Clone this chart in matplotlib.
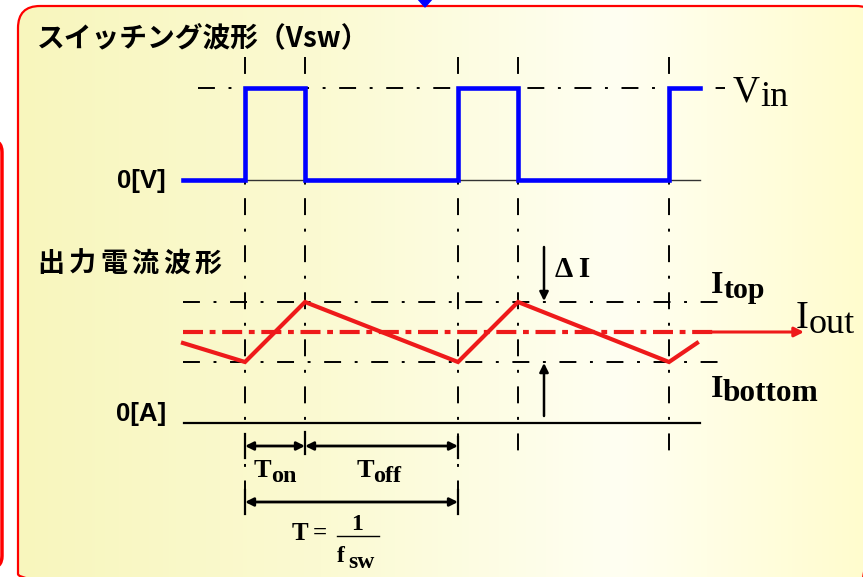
import numpy as np
import matplotlib.pyplot as plt
from matplotlib.patches import FancyBboxPatch, Polygon
from matplotlib.colors import LinearSegmentedColormap

# --- diagram data (pixel coordinates of the reference, y pointing down) ---
edges = [245, 305, 458, 518, 669]          # switching instants
v_x = [183, 245, 245, 305, 305, 458, 458, 518, 518, 669, 669, 700]
v_y = [180, 180, 88, 88, 180, 180, 88, 88, 180, 180, 88, 88]
i_x = [183, 245, 305, 458, 518, 669, 697]
i_y = [343, 362, 302, 362, 302, 362, 343]
v_in, v_zero = 88, 180
i_top, i_bottom, i_out, i_zero = 302, 362, 332, 423

BLUE = '#0000ff'
RED = '#ee1a1a'
JP = ['Noto Sans CJK JP', 'DejaVu Sans']
SERIF = 'Liberation Serif'
SANS = 'Liberation Sans'

fig = plt.figure(figsize=(8.63, 5.77), dpi=100)
ax = fig.add_axes([0, 0, 1, 1])
ax.set_xlim(0, 863)
ax.set_ylim(577, 0)
ax.axis('off')

# background panel with horizontal gradient
box = FancyBboxPatch((18, 6), 860, 590, boxstyle='round,pad=0,rounding_size=22',
                     fc='none', ec='red', lw=1.6, zorder=3)
ax.add_patch(box)
cmap = LinearSegmentedColormap.from_list('bg', [
    (0.0, '#f8f6bd'), (0.35, '#fbfad2'), (0.7, '#fffff2'), (1.0, '#fffccc')])
grad = np.linspace(0, 1, 256).reshape(1, -1)
im = ax.imshow(grad, cmap=cmap, extent=[18, 878, 596, 6], aspect='auto', zorder=0)
im.set_clip_path(box)

# neighbour panel edge on the left and the marker at the top
ax.add_patch(FancyBboxPatch((-60, 140), 62, 428, boxstyle='round,pad=0,rounding_size=12',
                            fc='none', ec='red', lw=2.5, zorder=3))
ax.add_patch(Polygon([[417, -2], [433, -2], [425, 7]], closed=True, fc=BLUE, ec=BLUE, zorder=4))

dashdot = (0, (8.7, 7.0, 1.5, 7.0))
kw = dict(color='black', lw=1.4, ls=dashdot, zorder=2)

# vertical guides
for x in edges:
    bottom = 515 if x in (245, 458) else 456
    ax.plot([x, x], [57, bottom], **kw)

# horizontal guides
ax.plot([198, 725], [v_in, v_in], **kw)
ax.plot([183, 730], [i_top, i_top], **kw)
ax.plot([183, 730], [i_bottom, i_bottom], **kw)
ax.plot([245, 700], [v_zero, v_zero], color='#333333', lw=1.0, zorder=2)
ax.plot([184, 700], [i_zero, i_zero], color='black', lw=1.6, zorder=2)

# switching waveform
ax.plot(v_x, v_y, color=BLUE, lw=3.3, solid_joinstyle='miter', zorder=4)

# output current
ax.plot([183, 713], [i_out, i_out], color=RED, lw=3.0,
        ls=(0, (4.8, 1.6, 1.4, 1.6)), zorder=4)
ax.annotate('', xy=(804, i_out), xytext=(710, i_out),
            arrowprops=dict(arrowstyle='-|>', color=RED, lw=2.2, mutation_scale=14,
                            shrinkA=0, shrinkB=0), zorder=4)
ax.plot(i_x, i_y, color=RED, lw=3.0, solid_joinstyle='miter', zorder=5)

# delta I arrows
arrow_kw = dict(arrowstyle='-|>', color='black', lw=1.8, mutation_scale=13,
                shrinkA=0, shrinkB=0)
ax.annotate('', xy=(544, 301), xytext=(544, 247), arrowprops=arrow_kw)
ax.annotate('', xy=(544, 363), xytext=(544, 416), arrowprops=arrow_kw)

# time brackets
dbl = dict(arrowstyle='<|-|>', color='black', lw=2.0, mutation_scale=12,
           shrinkA=0, shrinkB=0)
ax.annotate('', xy=(245, 446), xytext=(305, 446), arrowprops=dbl)
ax.annotate('', xy=(305, 446), xytext=(458, 446), arrowprops=dbl)
ax.annotate('', xy=(245, 502), xytext=(458, 502), arrowprops=dbl)
for x, y0, y1 in [(245, 434, 458), (305, 432, 454), (458, 437, 458),
                  (245, 490, 514), (458, 490, 514)]:
    ax.plot([x, x], [y0, y1], color='black', lw=1.6, zorder=3)

# titles
ax.text(37, 38, 'スイッチング波形（Vsw）', family=JP, weight='bold', fontsize=20,
        va='center', ha='left')
for k, ch in enumerate('出力電流波形'):
    ax.text(37 + k * 31.5, 264, ch, family=JP, weight='bold', fontsize=19.5,
            va='center', ha='left')

ax.text(166, 181, '0[V]', family=SANS, weight='bold', fontsize=18.5, ha='right', va='center')
ax.text(166, 414, '0[A]', family=SANS, weight='bold', fontsize=18.5, ha='right', va='center')

# Vin / Iout labels
ax.text(733, 101, 'V', family=SERIF, fontsize=27, ha='left', va='baseline')
ax.text(760, 106, 'in', family=SERIF, fontsize=26, ha='left', va='baseline')
ax.text(796, 328, 'I', family=SERIF, fontsize=28, ha='left', va='baseline')
ax.text(809, 333, 'out', family=SERIF, fontsize=26, ha='left', va='baseline')

# Itop / Ibottom / delta I
ax.text(711, 293, 'I', family=SERIF, weight='bold', fontsize=23, ha='left', va='baseline')
ax.text(723, 298, 'top', family=SERIF, weight='bold', fontsize=21.5, ha='left', va='baseline')
ax.text(711, 397, 'I', family=SERIF, weight='bold', fontsize=23, ha='left', va='baseline')
ax.text(723, 401, 'bottom', family=SERIF, weight='bold', fontsize=22.5, ha='left', va='baseline')
ax.text(555, 277, 'Δ I', family=SERIF, weight='bold', fontsize=21, ha='left', va='baseline')

# Ton / Toff / period
ax.text(254, 477, 'T', family=SERIF, weight='bold', fontsize=19, ha='left', va='baseline')
ax.text(271, 482, 'on', family=SERIF, weight='bold', fontsize=17.5, ha='left', va='baseline')
ax.text(357, 477, 'T', family=SERIF, weight='bold', fontsize=19, ha='left', va='baseline')
ax.text(373, 482, 'off', family=SERIF, weight='bold', fontsize=17.5, ha='left', va='baseline')
ax.text(292, 540, 'T', family=SERIF, weight='bold', fontsize=18, ha='left', va='baseline')
ax.text(313, 540, '=', family=SERIF, weight='bold', fontsize=18, ha='left', va='baseline')
ax.text(357, 530, '1', family=SERIF, weight='bold', fontsize=17, ha='center', va='baseline')
ax.plot([337, 379], [536, 536], color='black', lw=1.0)
ax.text(337, 562, 'f', family=SERIF, weight='bold', fontsize=17, ha='left', va='baseline')
ax.text(348, 568, 'sw', family=SERIF, weight='bold', fontsize=17, ha='left', va='baseline')

fig.savefig('out.png', dpi=100)
